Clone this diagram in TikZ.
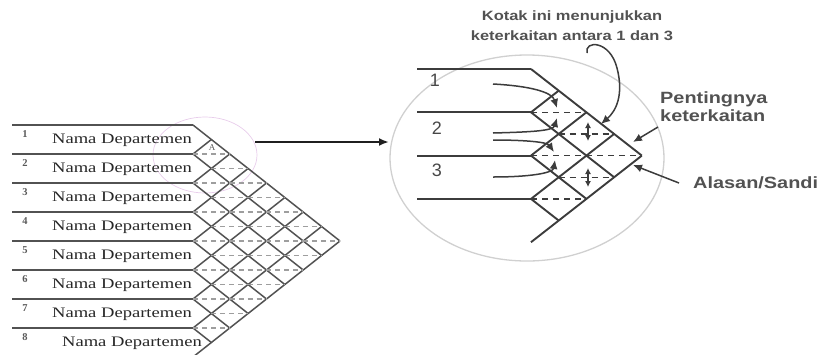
\documentclass[tikz,border=0pt]{standalone}
\usepackage{fontspec}
\usepackage{graphicx}
\setmainfont{Liberation Serif}
\newfontfamily\labelfont{Liberation Sans}
\usetikzlibrary{arrows,arrows.meta}

\definecolor{ringpink}{RGB}{232,205,235}
\definecolor{lensgray}{RGB}{208,208,208}
\definecolor{inkgray}{RGB}{60,60,60}

\newcommand{\widetxt}[1]{\scalebox{1.28}[1]{#1}}
\newcommand{\widebold}[1]{\scalebox{1.22}[1]{\bfseries #1}}

\tikzset{
  leftline/.style={line width=1.5pt, color=black!68},
  leftdash/.style={line width=1.1pt, color=black!38, dash pattern=on 5pt off 4pt},
  relline/.style={line width=1.9pt, color=inkgray},
  reldash/.style={line width=1.2pt, color=inkgray, dash pattern=on 6pt off 5pt},
  tagarrow/.style={-{Latex[length=9pt,width=8pt]}, line width=1.5pt, color=inkgray},
  deptlabel/.style={inner sep=0pt, color=black!85, font=\fontsize{14.5}{17}\selectfont},
  rownum/.style={inner sep=0pt, font=\fontsize{10.5}{12}\selectfont\bfseries, color=black!65},
  sanslabel/.style={inner sep=0pt, color=black!68, font=\labelfont\fontsize{16.3}{18.5}\selectfont}
}

\begin{document}
\begin{tikzpicture}[x=1pt,y=-1pt]
\useasboundingbox (0,0) rectangle (823,354);

% rings
\draw[ringpink, line width=0.7pt] (205,155) ellipse [x radius=52pt, y radius=38pt];
\draw[lensgray, line width=1.3pt] (527,158) ellipse [x radius=137pt, y radius=103pt];

% full chart, 8 departemen
\begin{scope}
  \def\xo{193} \def\yo{125} \def\hh{29} \def\sl{1.267}
  \foreach \k in {0,...,7}
    \draw[leftline] (12,{\yo+\k*\hh}) -- (\xo,{\yo+\k*\hh});
  \foreach \k in {0,...,7}
    \draw[leftline] (\xo,{\yo+\k*\hh}) -- ({\xo+\sl*(8-\k)*\hh/2},{\yo+(\k+8)*\hh/2});
  \foreach \k in {1,...,8}
    \draw[leftline] (\xo,{\yo+\k*\hh}) -- ({\xo+\sl*\k*\hh/2},{\yo+\k*\hh/2});
  \foreach \i in {1,...,7}
    \foreach \j in {\i,...,7}
      \draw[leftdash] ({\xo+\sl*\hh*(\j-\i)/2},{\yo+(\i+\j)*\hh/2})
        -- ({\xo+\sl*\hh*(\j-\i+2)/2},{\yo+(\i+\j)*\hh/2});
  \foreach \k in {1,...,7}
    \node[deptlabel, anchor=east] (dept\k) at (192,{\yo+(\k-0.5)*\hh+1}) {\widetxt{Nama Departemen}};
  \node[deptlabel, anchor=east] (dept8) at (202,{\yo+7.5*\hh+1}) {\widetxt{Nama Departemen}};
  \foreach \k in {1,...,8}
    \node[rownum] (num\k) at (25,{\yo+(\k-1)*\hh+9}) {\k};
  \node[rownum, font=\fontsize{9}{10}\selectfont] (rateA) at (212,148) {A};
\end{scope}

% zoomed part, 3 rows
\begin{scope}
  \def\xo{531} \def\yo{69} \def\hh{43.3} \def\sl{1.28}
  \foreach \k in {0,...,3}
    \draw[relline] (417,{\yo+\k*\hh}) -- (\xo,{\yo+\k*\hh});
  \foreach \k in {0,...,3}
    \draw[relline] (\xo,{\yo+\k*\hh}) -- ({\xo+\sl*(4-\k)*\hh/2},{\yo+(\k+4)*\hh/2});
  \foreach \k in {1,...,4}
    \draw[relline] (\xo,{\yo+\k*\hh}) -- ({\xo+\sl*\k*\hh/2},{\yo+\k*\hh/2});
  \foreach \i in {1,...,3}
    \foreach \j in {\i,...,3}
      \draw[reldash] ({\xo+\sl*\hh*(\j-\i)/2},{\yo+(\i+\j)*\hh/2})
        -- ({\xo+\sl*\hh*(\j-\i+2)/2},{\yo+(\i+\j)*\hh/2});
\end{scope}

\node[sanslabel, font=\labelfont\fontsize{18}{20}\selectfont, color=black!72] (row1) at (435,80) {1};
\node[sanslabel, font=\labelfont\fontsize{18}{20}\selectfont, color=black!72] (row2) at (437,128) {2};
\node[sanslabel, font=\labelfont\fontsize{18}{20}\selectfont, color=black!72] (row3) at (437,170) {3};

% texts
\node[sanslabel, font=\labelfont\fontsize{13.5}{20}\selectfont] (kotak) at (572,26)
  {\widebold{\begin{tabular}{@{}c@{}}Kotak ini menunjukkan\\keterkaitan antara 1 dan 3\end{tabular}}};
\node[sanslabel, anchor=west] (penting) at (660,109)
  {\widebold{\begin{tabular}{@{}l@{}}Pentingnya\\keterkaitan\end{tabular}}};
\node[sanslabel, anchor=west] (alasan) at (693,183) {\widebold{Alasan/Sandi}};

% zoom arrow
\coordinate (zoomfrom) at (255,142);
\coordinate (zoomto) at (389,142);
\draw[-{Latex[length=10pt,width=8pt]}, line width=2.2pt, color=black!88] (zoomfrom) -- (zoomto);

% curved arrows into the boxes
\coordinate (from1a) at (493,84);
\coordinate (from2a) at (493,133);
\coordinate (from2b) at (493,140);
\coordinate (from3a) at (493,177);
\coordinate (box12top) at (557,108);
\coordinate (box12bot) at (557,118);
\coordinate (box23top) at (554,152);
\coordinate (box23bot) at (555,160);
\draw[tagarrow] (from1a) .. controls (530,86) and (552,92) .. (box12top);
\draw[tagarrow] (from2a) .. controls (530,132) and (553,131) .. (box12bot);
\draw[tagarrow] (from2b) .. controls (525,140) and (547,142) .. (box23top);
\draw[tagarrow] (from3a) .. controls (530,177) and (553,173) .. (box23bot);
\draw[{Latex[length=6pt,width=6pt]}-{Latex[length=6pt,width=6pt]}, line width=1.1pt, color=inkgray] (588,122) -- (588,141);
\draw[{Latex[length=6pt,width=6pt]}-{Latex[length=6pt,width=6pt]}, line width=1.1pt, color=inkgray] (588,168) -- (588,187);

% callouts
\coordinate (kotakfoot) at (587,53);
\coordinate (box13top) at (601,124);
\draw[tagarrow] (kotakfoot) .. controls (584,40) and (610,40) .. (617,68)
  .. controls (624,95) and (616,111) .. (box13top);
\coordinate (pentingfoot) at (658,127);
\coordinate (box14top) at (633,142);
\draw[tagarrow] (pentingfoot) -- (box14top);
\coordinate (alasanfoot) at (679,183);
\coordinate (box14bot) at (633,165);
\draw[tagarrow] (alasanfoot) -- (box14bot);
\end{tikzpicture}
\end{document}
